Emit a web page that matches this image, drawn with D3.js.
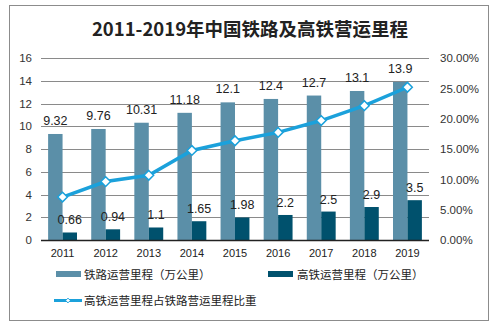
<!DOCTYPE html>
<html>
<head>
<meta charset="utf-8">
<script src="https://cdn.jsdelivr.net/npm/d3@7"></script>
<style>
  body { margin: 0; background: #fff; }
  svg { display: block; }
</style>
</head>
<body>
<div class="container"></div>
<script>
var years = ['2011', '2012', '2013', '2014', '2015', '2016', '2017', '2018', '2019'];
var railKm = [9.32, 9.76, 10.31, 11.18, 12.1, 12.4, 12.7, 13.1, 13.9];
var hsrKm = [0.66, 0.94, 1.1, 1.65, 1.98, 2.2, 2.5, 2.9, 3.5];
var hsrShare = [0.0708, 0.0963, 0.1067, 0.1476, 0.1636, 0.1774, 0.1969, 0.2214, 0.2518];
var leftTicks = [0, 2, 4, 6, 8, 10, 12, 14, 16];
var rightTicks = [0, 0.05, 0.10, 0.15, 0.20, 0.25, 0.30];
var seriesNames = ['铁路运营里程（万公里）', '高铁运营里程（万公里）', '高铁运营里程占铁路营运里程比重'];

var W = 496, H = 324;
var plotLeft = 41, plotRight = 429, plotTop = 58, plotBottom = 240;
var railColor = '#5b8fa8', hsrColor = '#00516d', lineColor = '#1ba1db';
var numFont = '"Liberation Sans", Arial, sans-serif';
var cjkFont = '"Noto Sans CJK SC", "Liberation Sans", sans-serif';

var svg = d3.select('.container')
  .append('svg')
    .attr('width', W)
    .attr('height', H);

svg.append('rect')
  .attr('x', 9.5).attr('y', 5.5)
  .attr('width', 479).attr('height', 315)
  .style('fill', '#fff')
  .style('stroke', '#8c8c8c');

svg.append('text')
  .attr('x', 250).attr('y', 36)
  .attr('text-anchor', 'middle')
  .style('font-family', cjkFont)
  .style('font-weight', 'bold')
  .style('font-size', '18.5px')
  .style('fill', '#222')
  .text('2011-2019年中国铁路及高铁营运里程');

var x = d3.scaleBand().domain(years).range([plotLeft, plotRight])
  .paddingInner(0.33).paddingOuter(0.165);
var sub = d3.scaleBand().domain([0, 1]).range([0, x.bandwidth()]);
var y = d3.scaleLinear().domain([0, 16]).range([plotBottom, plotTop]);
var y2 = d3.scaleLinear().domain([0, 0.30]).range([plotBottom, plotTop]);

// grid
svg.append('g')
  .selectAll('line')
  .data(leftTicks.slice(1))
  .join('line')
    .attr('x1', plotLeft).attr('x2', plotRight)
    .attr('y1', function(d) { return Math.round(y(d)) + 0.5; })
    .attr('y2', function(d) { return Math.round(y(d)) + 0.5; })
    .style('stroke', '#8a8a8a')
    .style('stroke-width', 1);

// left axis
var yAxis = svg.append('g')
  .attr('transform', 'translate(' + (plotLeft - 9) + ',0)')
  .call(d3.axisLeft(y).tickValues(leftTicks).tickSize(0).tickPadding(0));
yAxis.select('.domain').remove();
yAxis.selectAll('text')
  .style('font-family', numFont).style('font-size', '11.5px').style('fill', '#333');

// right axis
var y2Axis = svg.append('g')
  .attr('transform', 'translate(' + (plotRight + 11) + ',0)')
  .call(d3.axisRight(y2).tickValues(rightTicks).tickSize(0).tickPadding(0)
    .tickFormat(function(d) { return (d * 100).toFixed(2) + '%'; }));
y2Axis.select('.domain').remove();
y2Axis.selectAll('text')
  .style('font-family', numFont).style('font-size', '11.5px').style('fill', '#333');

// bars
var groups = svg.append('g')
  .selectAll('g')
  .data(years)
  .join('g')
    .attr('transform', function(d) { return 'translate(' + x(d) + ',0)'; });

groups.append('rect')
  .attr('x', sub(0))
  .attr('y', function(d, i) { return y(railKm[i]); })
  .attr('width', sub.bandwidth())
  .attr('height', function(d, i) { return plotBottom - y(railKm[i]); })
  .style('fill', railColor);

groups.append('rect')
  .attr('x', sub(1))
  .attr('y', function(d, i) { return y(hsrKm[i]); })
  .attr('width', sub.bandwidth())
  .attr('height', function(d, i) { return plotBottom - y(hsrKm[i]); })
  .style('fill', hsrColor);

// baseline
svg.append('line')
  .attr('x1', plotLeft).attr('x2', plotRight)
  .attr('y1', plotBottom + 0.5).attr('y2', plotBottom + 0.5)
  .style('stroke', '#222').style('stroke-width', 1.5);

// x labels
var xAxis = svg.append('g')
  .attr('transform', 'translate(0,' + (plotBottom + 7) + ')')
  .call(d3.axisBottom(x).tickSize(0).tickPadding(0));
xAxis.select('.domain').remove();
xAxis.selectAll('text')
  .attr('dy', '0.9em')
  .style('font-family', numFont).style('font-size', '11px').style('fill', '#222');

// line
var line = d3.line()
  .x(function(d, i) { return x(years[i]) + x.bandwidth() / 2; })
  .y(function(d) { return y2(d); });

svg.append('path')
  .datum(hsrShare)
  .attr('d', line)
  .style('fill', 'none')
  .style('stroke', lineColor)
  .style('stroke-width', 3.5);

svg.append('g')
  .selectAll('path')
  .data(hsrShare)
  .join('path')
    .attr('d', d3.symbol(d3.symbolDiamond2, 60))
    .attr('transform', function(d, i) {
      return 'translate(' + (x(years[i]) + x.bandwidth() / 2) + ',' + y2(d) + ')';
    })
    .style('fill', '#fff')
    .style('stroke', lineColor)
    .style('stroke-width', 1.5);

// value labels
groups.append('text')
  .attr('x', sub(0) + sub.bandwidth() / 2)
  .attr('y', function(d, i) { return y(railKm[i]) - 9; })
  .attr('text-anchor', 'middle')
  .style('font-family', numFont).style('font-size', '12.5px').style('fill', '#222')
  .text(function(d, i) { return railKm[i]; });

groups.append('text')
  .attr('x', sub(1) + sub.bandwidth() / 2)
  .attr('y', function(d, i) { return y(hsrKm[i]) - 8; })
  .attr('text-anchor', 'middle')
  .style('font-family', numFont).style('font-size', '12.5px').style('fill', '#222')
  .text(function(d, i) { return hsrKm[i]; });

// legend
var legend = svg.append('g')
  .style('font-family', cjkFont).style('font-size', '11.5px').style('fill', '#222');

legend.append('rect').attr('x', 56).attr('y', 271).attr('width', 25).attr('height', 6).style('fill', railColor);
legend.append('text').attr('x', 84).attr('y', 278.5).text(seriesNames[0]);
legend.append('rect').attr('x', 268).attr('y', 271).attr('width', 25).attr('height', 6).style('fill', hsrColor);
legend.append('text').attr('x', 297).attr('y', 278.5).text(seriesNames[1]);

legend.append('line').attr('x1', 54).attr('x2', 82).attr('y1', 300.5).attr('y2', 300.5)
  .style('stroke', lineColor).style('stroke-width', 3);
legend.append('path')
  .attr('d', d3.symbol(d3.symbolDiamond2, 14))
  .attr('transform', 'translate(68,300.5)')
  .style('fill', '#fff').style('stroke', lineColor).style('stroke-width', 1);
legend.append('text').attr('x', 84).attr('y', 305).text(seriesNames[2]);
</script>
</body>
</html>
